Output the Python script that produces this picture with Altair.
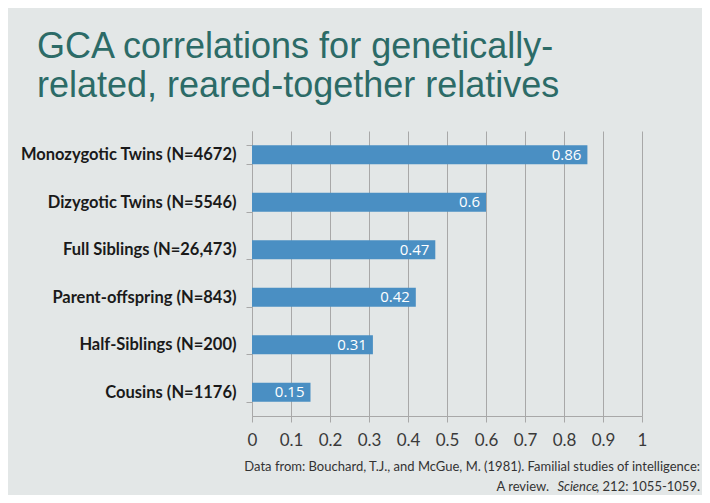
import altair as alt
import pandas as pd

categories = [
    "Monozygotic Twins (N=4672)",
    "Dizygotic Twins (N=5546)",
    "Full Siblings (N=26,473)",
    "Parent-offspring (N=843)",
    "Half-Siblings (N=200)",
    "Cousins (N=1176)",
]
values = [0.86, 0.6, 0.47, 0.42, 0.31, 0.15]
labels = ["0.86", "0.6", "0.47", "0.42", "0.31", "0.15"]
x_ticks = [0, 0.1, 0.2, 0.3, 0.4, 0.5, 0.6, 0.7, 0.8, 0.9, 1]
title_lines = ["GCA correlations for genetically-", "related, reared-together relatives"]
foot_line1 = "Data from: Bouchard, T.J., and McGue, M. (1981).  Familial studies of intelligence:"
foot_line2_parts = ["A review.", "Science", ", 212: 1055-1059."]

df = pd.DataFrame({"cat": categories, "val": values, "lab": labels})

BG = "#e3e7e7"
BAR = "#4a8fc3"
TEAL = "#2c6b67"
GRID = "#a8a8a8"

y_enc = alt.Y(
    "cat:N",
    sort=categories,
    title=None,
    scale=alt.Scale(paddingInner=0.6, paddingOuter=0.3),
    axis=alt.Axis(
        labelFont="Lato",
        labelFontWeight="bold",
        labelFontSize=16.5,
        labelColor="#1a1a1a",
        labelPadding=10,
        tickSize=6,
        tickBand="extent",
        tickColor=GRID,
        domainColor=GRID,
        grid=False,
        labelLimit=300,
    ),
)
x_enc = alt.X(
    "val:Q",
    title=None,
    scale=alt.Scale(domain=[0, 1], nice=False),
    axis=alt.Axis(
        values=x_ticks,
        format="~g",
        labelFont="Lato",
        labelFontSize=17,
        labelColor="#3a3a3a",
        labelPadding=10,
        labelOverlap=False,
        labelFlush=False,
        tickSize=6,
        tickColor=GRID,
        domainColor=GRID,
        grid=True,
        gridColor=GRID,
        gridWidth=1,
    ),
)

bars = alt.Chart(df).mark_bar(color=BAR).encode(x=x_enc, y=y_enc)
bar_text = alt.Chart(df).mark_text(
    align="right", baseline="middle", dx=-6, color="white",
    font="Open Sans", fontSize=15,
).encode(x=x_enc, y=y_enc, text="lab:N")

title_style = dict(align="left", baseline="alphabetic", font="Liberation Sans", fontSize=36, color=TEAL)
title1 = alt.Chart(pd.DataFrame({"t": [title_lines[0]]})).mark_text(**title_style).encode(
    x=alt.value(-215), y=alt.value(-73), text="t:N")
title2 = alt.Chart(pd.DataFrame({"t": [title_lines[1]]})).mark_text(**title_style).encode(
    x=alt.value(-215), y=alt.value(-34), text="t:N")

foot_style = dict(baseline="alphabetic", font="Lato", fontSize=13, color="#333333")
foot1 = alt.Chart(pd.DataFrame({"t": [foot_line1]})).mark_text(align="right", **foot_style).encode(
    x=alt.value(448), y=alt.value(340), text="t:N")
foot2a = alt.Chart(pd.DataFrame({"t": [foot_line2_parts[0]]})).mark_text(align="right", **foot_style).encode(
    x=alt.value(297), y=alt.value(360), text="t:N")
foot2b = alt.Chart(pd.DataFrame({"t": [foot_line2_parts[1]]})).mark_text(align="right", fontStyle="italic", **foot_style).encode(
    x=alt.value(346), y=alt.value(360), text="t:N")
foot2c = alt.Chart(pd.DataFrame({"t": [foot_line2_parts[2]]})).mark_text(align="right", **foot_style).encode(
    x=alt.value(448), y=alt.value(360), text="t:N")

chart = alt.layer(bars, bar_text, title1, title2, foot1, foot2a, foot2b, foot2c).properties(
    width=390,
    height=285,
    background=BG,
    padding={"left": 244, "top": 123, "right": 60, "bottom": 79},
    autosize=alt.AutoSizeParams(type="none"),
).configure_view(stroke=None)

chart.save("out.html", embed_options={"renderer": "svg", "actions": False})
